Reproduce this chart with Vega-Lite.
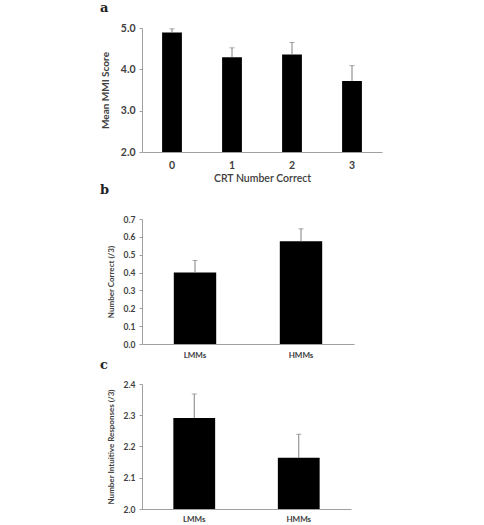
{
  "$schema": "https://vega.github.io/schema/vega-lite/v6.json",
  "padding": {"left": 100, "top": 2, "right": 5, "bottom": 0},
  "background": "white",
  "spacing": 0,
  "config": {
    "font": "Lato",
    "view": {"stroke": null},
    "axis": {
      "grid": false,
      "domainColor": "#a0a0a0",
      "tickColor": "#a0a0a0",
      "labelColor": "#404040",
      "titleColor": "#404040",
      "labelFont": "Lato",
      "titleFont": "Lato",
      "labelFontWeight": "bold",
      "titleFontWeight": "bold",
      "labelOverlap": false
    },
    "title": {"font": "DejaVu Serif", "fontWeight": "bold", "anchor": "start", "frame": "group", "color": "#222222"}
  },
  "vconcat": [
    {
      "title": {"text": "a", "fontSize": 13, "dx": -42, "offset": 8},
      "width": 240,
      "height": 124,
      "data": {"values": [
        {"crt": "0", "mean": 4.89, "upper": 4.98},
        {"crt": "1", "mean": 4.29, "upper": 4.52},
        {"crt": "2", "mean": 4.36, "upper": 4.65},
        {"crt": "3", "mean": 3.72, "upper": 4.09}
      ]},
      "encoding": {
        "x": {"field": "crt", "type": "nominal", "title": "CRT Number Correct",
              "scale": {"paddingInner": 0.67, "paddingOuter": 0.335},
              "axis": {"labelAngle": 0, "ticks": false, "labelFontSize": 10.5, "labelPadding": 8, "titleFontSize": 10.5, "titleFontWeight": 600, "titlePadding": 3}}
      },
      "layer": [
        {"mark": {"type": "bar", "color": "black"},
         "encoding": {
           "y": {"field": "mean", "type": "quantitative", "title": "Mean MMI Score",
                 "scale": {"domain": [2, 5], "zero": false, "nice": false},
                 "axis": {"values": [2, 3, 4, 5], "format": ".1f", "tickSize": 3, "labelFontSize": 10.5, "titleFontSize": 10, "labelPadding": 4, "titlePadding": 10}},
           "y2": {"datum": 2}}},
        {"mark": {"type": "rule", "color": "#808080", "strokeWidth": 1},
         "encoding": {
           "y": {"field": "mean", "type": "quantitative", "title": "Mean MMI Score",
                 "axis": {"values": [2, 3, 4, 5], "format": ".1f", "tickSize": 3, "labelFontSize": 10.5, "titleFontSize": 10, "labelPadding": 4, "titlePadding": 10}},
           "y2": {"field": "upper"}}},
        {"mark": {"type": "tick", "color": "#808080", "size": 5, "thickness": 1, "orient": "horizontal"},
         "encoding": {
           "y": {"field": "upper", "type": "quantitative", "title": "Mean MMI Score",
                 "axis": {"values": [2, 3, 4, 5], "format": ".1f", "tickSize": 3, "labelFontSize": 10.5, "titleFontSize": 10, "labelPadding": 4, "titlePadding": 10}}}}
      ]
    },
    {
      "title": {"text": "b", "fontSize": 13, "dx": -42, "offset": 18},
      "width": 212,
      "height": 125,
      "data": {"values": [
        {"group": "LMMs", "mean": 0.40, "upper": 0.468},
        {"group": "HMMs", "mean": 0.575, "upper": 0.645}
      ]},
      "encoding": {
        "x": {"field": "group", "type": "nominal", "title": null, "sort": null,
              "scale": {"paddingInner": 0.6, "paddingOuter": 0.3},
              "axis": {"labelAngle": 0, "ticks": false, "labelFontSize": 8, "labelPadding": 7}}
      },
      "layer": [
        {"mark": {"type": "bar", "color": "black"},
         "encoding": {
           "y": {"field": "mean", "type": "quantitative", "title": "Number Correct (/3)",
                 "scale": {"domain": [0, 0.7], "nice": false},
                 "axis": {"values": [0, 0.1, 0.2, 0.3, 0.4, 0.5, 0.6, 0.7], "format": ".1f", "tickSize": 3, "labelFontSize": 8.5, "titleFontSize": 8, "labelPadding": 4, "titlePadding": 8}}}},
        {"mark": {"type": "rule", "color": "#808080", "strokeWidth": 1},
         "encoding": {
           "y": {"field": "mean", "type": "quantitative", "title": "Number Correct (/3)",
                 "axis": {"values": [0, 0.1, 0.2, 0.3, 0.4, 0.5, 0.6, 0.7], "format": ".1f", "tickSize": 3, "labelFontSize": 8.5, "titleFontSize": 8, "labelPadding": 4, "titlePadding": 8}},
           "y2": {"field": "upper"}}},
        {"mark": {"type": "tick", "color": "#808080", "size": 5, "thickness": 1, "orient": "horizontal"},
         "encoding": {
           "y": {"field": "upper", "type": "quantitative", "title": "Number Correct (/3)",
                 "axis": {"values": [0, 0.1, 0.2, 0.3, 0.4, 0.5, 0.6, 0.7], "format": ".1f", "tickSize": 3, "labelFontSize": 8.5, "titleFontSize": 8, "labelPadding": 4, "titlePadding": 8}}}}
      ]
    },
    {
      "title": {"text": "c", "fontSize": 13, "dx": -42, "offset": 8},
      "width": 209,
      "height": 125,
      "data": {"values": [
        {"group": "LMMs", "mean": 2.291, "upper": 2.368},
        {"group": "HMMs", "mean": 2.164, "upper": 2.239}
      ]},
      "encoding": {
        "x": {"field": "group", "type": "nominal", "title": null, "sort": null,
              "scale": {"paddingInner": 0.6, "paddingOuter": 0.3},
              "axis": {"labelAngle": 0, "ticks": false, "labelFontSize": 8, "labelPadding": 6}}
      },
      "layer": [
        {"mark": {"type": "bar", "color": "black"},
         "encoding": {
           "y": {"field": "mean", "type": "quantitative", "title": "Number Intuitive Responses (/3)",
                 "scale": {"domain": [2, 2.4], "zero": false, "nice": false},
                 "axis": {"values": [2, 2.1, 2.2, 2.3, 2.4], "format": ".1f", "tickSize": 3, "labelFontSize": 8.5, "titleFontSize": 8, "labelPadding": 4, "titlePadding": 8}},
           "y2": {"datum": 2}}},
        {"mark": {"type": "rule", "color": "#808080", "strokeWidth": 1},
         "encoding": {
           "y": {"field": "mean", "type": "quantitative", "title": "Number Intuitive Responses (/3)",
                 "axis": {"values": [2, 2.1, 2.2, 2.3, 2.4], "format": ".1f", "tickSize": 3, "labelFontSize": 8.5, "titleFontSize": 8, "labelPadding": 4, "titlePadding": 8}},
           "y2": {"field": "upper"}}},
        {"mark": {"type": "tick", "color": "#808080", "size": 5, "thickness": 1, "orient": "horizontal"},
         "encoding": {
           "y": {"field": "upper", "type": "quantitative", "title": "Number Intuitive Responses (/3)",
                 "axis": {"values": [2, 2.1, 2.2, 2.3, 2.4], "format": ".1f", "tickSize": 3, "labelFontSize": 8.5, "titleFontSize": 8, "labelPadding": 4, "titlePadding": 8}}}}
      ]
    }
  ]
}
